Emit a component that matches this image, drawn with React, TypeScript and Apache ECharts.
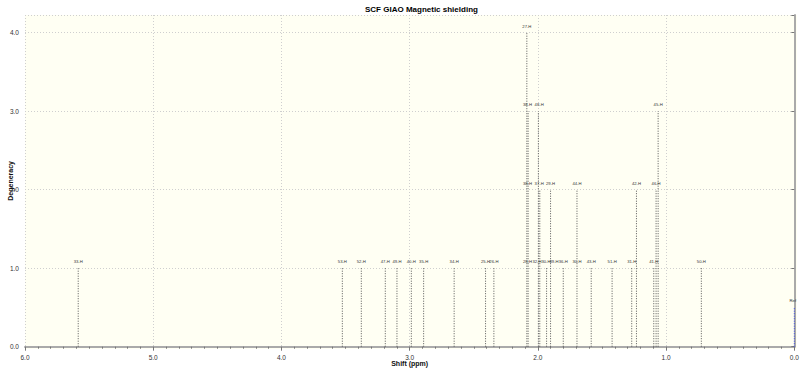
import React, { useEffect, useRef } from "react";
import * as echarts from "echarts";

// Stick spectrum: chemical shift (ppm) and degeneracy
const stickShifts = [5.585, 3.525, 3.377, 3.19, 3.099, 2.987, 2.891, 2.653, 2.408, 2.343, 2.086, 2.076, 1.996, 1.985, 1.932, 1.901, 1.802, 1.695, 1.584, 1.421, 1.268, 1.231, 1.096, 1.078, 1.062, 0.725];
const stickHeights = [1, 1, 1, 1, 1, 1, 1, 1, 1, 1, 4, 3, 3, 2, 1, 2, 1, 2, 1, 1, 1, 2, 1, 2, 3, 1];

// Reference stick
const refShift = [0.0];
const refHeight = [0.5];
const refLabel = ["Ref"];

// Nucleus labels: shift, level, text
const labelShifts = [5.585, 3.525, 3.377, 3.19, 3.099, 2.987, 2.891, 2.653, 2.408, 2.343, 2.081, 2.007, 1.937, 1.874, 1.802, 1.695, 1.584, 1.421, 1.268, 1.096, 0.725,
  2.081, 1.99, 1.901, 1.695, 1.231, 1.078,
  2.081, 1.99, 1.062,
  2.086];
const labelLevels = [1, 1, 1, 1, 1, 1, 1, 1, 1, 1, 1, 1, 1, 1, 1, 1, 1, 1, 1, 1, 1,
  2, 2, 2, 2, 2, 2,
  3, 3, 3,
  4];
const labelTexts = ["33-H", "53-H", "52-H", "47-H", "49-H", "40-H", "35-H", "34-H", "25-H", "26-H", "28-H", "32-H", "30-H", "39-H", "36-H", "30-H", "43-H", "51-H", "31-H", "41-H", "50-H",
  "38-H", "37-H", "29-H", "44-H", "42-H", "46-H",
  "38-H", "48-H", "45-H",
  "27-H"];

const xTicks = { min: 0, max: 6, interval: 1 };
const yTicks = { min: 0, max: 4.225, interval: 1 };

const FONT = "Liberation Sans";

export default function App() {
  const ref = useRef<HTMLDivElement>(null);
  useEffect(() => {
    if (!ref.current) return;
    const chart = echarts.init(ref.current, null, { renderer: "svg" });
    const stickData = stickShifts.map((s, i) => [s, stickHeights[i]]);
    const refData = refShift.map((s, i) => [s, refHeight[i]]);
    const labelData = labelShifts.map((s, i) => [s, labelLevels[i]]);

    const stickRender = (params: any, api: any) => {
      const x = api.value(0);
      const h = api.value(1);
      const p0 = api.coord([x, 0]);
      const p1 = api.coord([x, h]);
      return {
        type: "line",
        shape: { x1: p0[0], y1: p0[1], x2: p1[0], y2: p1[1] },
        style: { stroke: "#555", lineWidth: 1, lineDash: [1, 1.5] },
      };
    };

    const labelRender = (params: any, api: any) => {
      const x = api.value(0);
      const h = api.value(1);
      const p = api.coord([x, h]);
      return {
        type: "text",
        x: p[0],
        y: p[1] - 6.5,
        style: {
          text: labelTexts[params.dataIndex],
          fontSize: 4.2,
          fontFamily: FONT,
          fill: "#333",
          align: "center",
          verticalAlign: "middle",
        },
      };
    };

    chart.setOption({
      animation: false,
      backgroundColor: "#ffffff",
      title: {
        text: "SCF GIAO Magnetic shielding",
        left: 360,
        top: 0,
        textStyle: { fontSize: 8, fontWeight: "bold", color: "#000", fontFamily: FONT },
      },
      graphic: [
        {
          type: "rect",
          z: -10,
          shape: { x: 25, y: 15, width: 772, height: 334 },
          style: { fill: "#fffff3" },
          silent: true,
        },
      ],
      grid: { left: 25, right: 5.7, top: 15, bottom: 369 - 346.7, containLabel: false, outerBoundsMode: "none" },
      xAxis: {
        type: "value",
        inverse: true,
        min: xTicks.min,
        max: xTicks.max,
        interval: xTicks.interval,
        offset: 2,
        name: "Shift (ppm)",
        nameLocation: "middle",
        nameGap: 11,
        nameMoveOverlap: false,
        nameTextStyle: { fontSize: 7, fontWeight: "bold", color: "#111", fontFamily: FONT },
        axisLine: { show: true, lineStyle: { color: "#aaa", width: 2 } },
        axisTick: { show: true, length: 4, lineStyle: { color: "#777" } },
        minorTick: { show: true, splitNumber: 10, length: 2, lineStyle: { color: "#777" } },
        axisLabel: { fontSize: 6.5, color: "#333", margin: 5, fontFamily: FONT, formatter: (v: number) => v.toFixed(1) },
        splitLine: { show: true, lineStyle: { color: "#cfcfcf", type: [1, 2], width: 1 } },
      },
      yAxis: {
        type: "value",
        min: yTicks.min,
        max: yTicks.max,
        interval: yTicks.interval,
        offset: 2,
        name: "Degeneracy",
        nameLocation: "middle",
        nameRotate: 90,
        nameGap: 9,
        nameMoveOverlap: false,
        nameTextStyle: { fontSize: 7, fontWeight: "bold", color: "#111", fontFamily: FONT },
        axisLine: { show: true, lineStyle: { color: "#aaa", width: 2 } },
        axisTick: { show: true, length: 3, lineStyle: { color: "#777" } },
        axisLabel: { fontSize: 6.5, color: "#333", margin: 4, fontFamily: FONT, formatter: (v: number) => (v > 4.1 ? "" : v.toFixed(1)) },
        splitLine: { show: true, lineStyle: { color: "#cfcfcf", type: [1, 2], width: 1 } },
      },
      series: [
        {
          type: "custom",
          name: "sticks",
          renderItem: stickRender,
          data: stickData,
          encode: { x: 0, y: 1 },
          clip: false,
        },
        {
          type: "custom",
          name: "ref",
          renderItem: (params: any, api: any) => {
            const x = api.value(0);
            const h = api.value(1);
            const p0 = api.coord([x, 0]);
            const p1 = api.coord([x, h]);
            return {
              type: "group",
              children: [
                {
                  type: "line",
                  shape: { x1: p0[0], y1: p0[1], x2: p1[0], y2: p1[1] },
                  style: { stroke: "#3344ee", lineWidth: 1, lineDash: [1, 1.5] },
                },
                {
                  type: "text",
                  x: p1[0] - 1.5,
                  y: p1[1] - 6.5,
                  style: { text: refLabel[params.dataIndex], fontSize: 4.2, fontFamily: FONT, fill: "#333", align: "center", verticalAlign: "middle" },
                },
              ],
            };
          },
          data: refData,
          encode: { x: 0, y: 1 },
          clip: false,
        },
        {
          type: "custom",
          name: "labels",
          renderItem: labelRender,
          data: labelData,
          encode: { x: 0, y: 1 },
          clip: false,
        },
      ],
    });
    return () => chart.dispose();
  }, []);
  return <div ref={ref} style={{ position: "fixed", left: 0, top: 0, width: 800, height: 369 }} />;
}
